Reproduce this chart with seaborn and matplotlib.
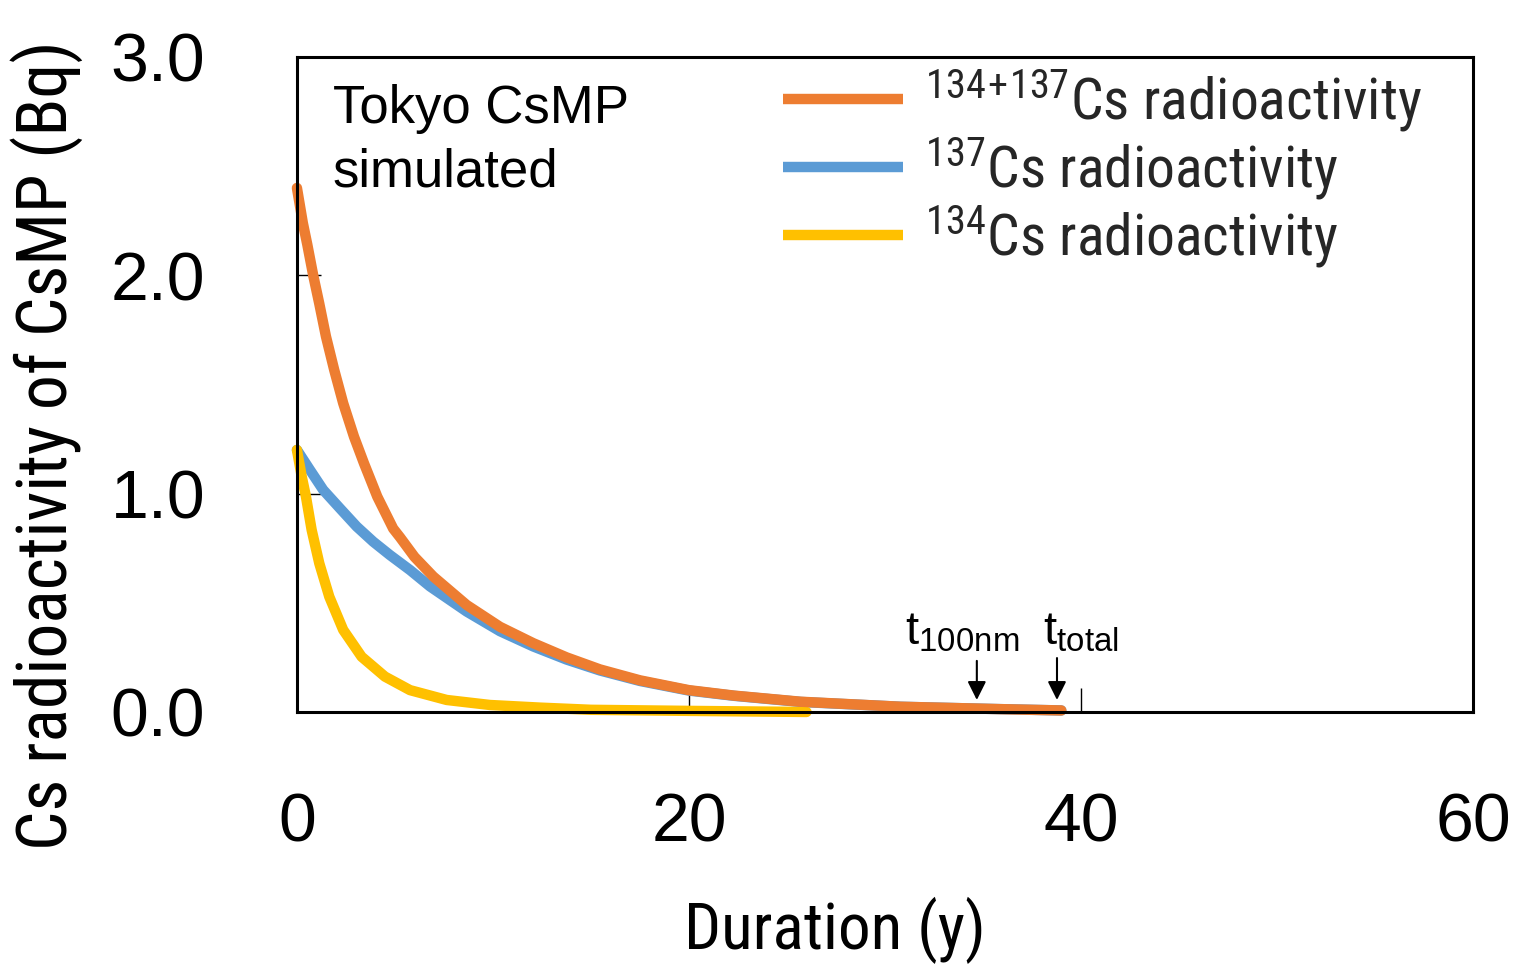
import matplotlib
matplotlib.use("Agg")
import matplotlib.pyplot as plt
from matplotlib.lines import Line2D
from matplotlib import font_manager
import seaborn as sns
import pandas as pd

# ---- data ----
total_t = [0, 0.3, 0.53, 0.83, 1.14, 1.48, 1.9, 2.36, 2.91, 3.42, 4.1, 4.91, 5.26, 6.0, 6.96,
           8.66, 10.36, 12.06, 13.76, 15.46, 17.5, 20.0, 22.3, 25.7, 30.8, 35.9, 39.0]
total_v = [2.40, 2.24, 2.14, 2.0, 1.87, 1.72, 1.567, 1.414, 1.261, 1.139, 0.986, 0.84, 0.80, 0.71, 0.62,
           0.49, 0.39, 0.315, 0.25, 0.195, 0.145, 0.10, 0.075, 0.047, 0.024, 0.013, 0.007]
cs137_t = [0, 0.66, 1.34, 2.19, 3.05, 3.89, 4.74, 5.77, 6.79, 8.66, 10.36, 12.06, 13.76,
           15.46, 17.5, 20.0, 22.3, 25.7, 30.8, 35.9, 39.0]
cs137_v = [1.20, 1.109, 1.017, 0.933, 0.849, 0.78, 0.719, 0.65, 0.575, 0.46, 0.37, 0.30, 0.24,
           0.19, 0.142, 0.098, 0.074, 0.046, 0.024, 0.013, 0.007]
cs134_t = [0, 0.24, 0.46, 0.75, 1.14, 1.65, 2.36, 3.30, 4.49, 5.77, 7.64, 9.85, 12.4, 15.0, 20.0, 26.0]
cs134_v = [1.20, 1.08, 0.986, 0.834, 0.681, 0.528, 0.376, 0.253, 0.162, 0.10, 0.055, 0.032, 0.02, 0.01, 0.005, 0.0]

labels = [r"$^{134}$$^{+}$$^{137}$Cs radioactivity", r"$^{137}$Cs radioactivity", r"$^{134}$Cs radioactivity"]
colors = ["#ED7D31", "#5B9BD5", "#FFC000"]
x_ticks = [0, 20, 40, 60]
y_ticks = [0.0, 1.0, 2.0, 3.0]
y_ticklabels = ["0.0", "1.0", "2.0", "3.0"]
t100_x, ttotal_x = 34.69, 38.78
t100_label_x, ttotal_label_x = 31.02, 38.06

names = {f.name for f in font_manager.fontManager.ttflist}
narrow = "Liberation Sans"
for cand in ["Liberation Sans Narrow", "Arial Narrow", "Roboto Condensed", "Open Sans Condensed", "Noto Sans Condensed"]:
    if cand in names:
        narrow = cand
        break

sns.set_theme(style="white")
plt.rcParams["font.family"] = ["Liberation Sans", "DejaVu Sans"]
plt.rcParams["mathtext.fontset"] = "custom"
plt.rcParams["mathtext.rm"] = narrow
plt.rcParams["mathtext.sf"] = "Liberation Sans"
plt.rcParams["mathtext.default"] = "rm"

fig = plt.figure(figsize=(15.15, 9.65), dpi=100)
ax = fig.add_axes([0.196, 0.2622, 0.7762, 0.6788])

lw = 7.5
for t, v, c in [(cs137_t, cs137_v, colors[1]), (cs134_t, cs134_v, colors[2]), (total_t, total_v, colors[0])]:
    df = pd.DataFrame({"t": t, "v": v})
    sns.lineplot(data=df, x="t", y="v", ax=ax, color=c, lw=lw, sort=False, estimator=None)
for ln in ax.get_lines():
    ln.set_clip_on(False)
    ln.set_solid_capstyle("round")
    ln.set_solid_joinstyle("round")

ax.set_xlim(0, 60)
ax.set_ylim(0, 3.0)
ax.set_xticks(x_ticks)
ax.set_xticklabels([str(x) for x in x_ticks])
ax.set_yticks(y_ticks)
ax.set_yticklabels(y_ticklabels)
ax.tick_params(axis="y", direction="in", length=17, width=1, pad=66, labelsize=49, colors="black", left=True)
ax.tick_params(axis="x", direction="in", length=17, width=1, pad=57, labelsize=49, colors="black", bottom=True)
for s in ax.spines.values():
    s.set_color("black")
    s.set_linewidth(2.2)

xl = ax.set_xlabel("Duration (y)", fontsize=54, family=narrow, color="black")
ax.xaxis.set_label_coords(0.4575, -0.283)
yl = ax.set_ylabel("Cs radioactivity of CsMP (Bq)", fontsize=54, family=narrow, color="black")
ax.yaxis.set_label_coords(-0.182, 0.4076)

ax.text(0.0306, 0.958, "Tokyo CsMP\nsimulated", transform=ax.transAxes, ha="left", va="top",
        fontsize=38, color="black", linespacing=1.33)

ax.text(t100_label_x, 0.307, r"t$_{\mathsf{100nm}}$", fontsize=34, ha="left", va="baseline", color="black")
ax.text(ttotal_label_x, 0.307, r"t$_{\mathsf{total}}$", fontsize=34, ha="left", va="baseline", color="black")
arrow = dict(arrowstyle="-|>", color="black", lw=1.5, mutation_scale=28, shrinkA=0, shrinkB=0)
ax.annotate("", xy=(t100_x, 0.055), xytext=(t100_x, 0.234), arrowprops=arrow)
ax.annotate("", xy=(ttotal_x, 0.055), xytext=(ttotal_x, 0.247), arrowprops=arrow)

handles = [Line2D([0], [0], color=c, lw=lw, solid_capstyle="butt") for c in colors]


def make_legend(size):
    px = size * 100 / 72.0
    return ax.legend(handles, labels, loc="upper left", bbox_to_anchor=(0.413, 0.984), frameon=False,
                     prop={"family": narrow, "size": size}, handlelength=120 / px,
                     handletextpad=22 / px, labelspacing=0.03, borderpad=0, borderaxespad=0)


# fit text sizes to the extents measured in the reference
fig.canvas.draw()
r = fig.canvas.get_renderer()
yl.set_fontsize(54 * 810 / yl.get_window_extent(r).height)
xl.set_fontsize(min(54 * 335 / xl.get_window_extent(r).width, 47))
leg = make_legend(44)
fig.canvas.draw()
w = leg.get_texts()[1].get_window_extent(r).width
leg.remove()
leg = make_legend(44 * 413 / w)

fig.savefig("out.png", dpi=100)
